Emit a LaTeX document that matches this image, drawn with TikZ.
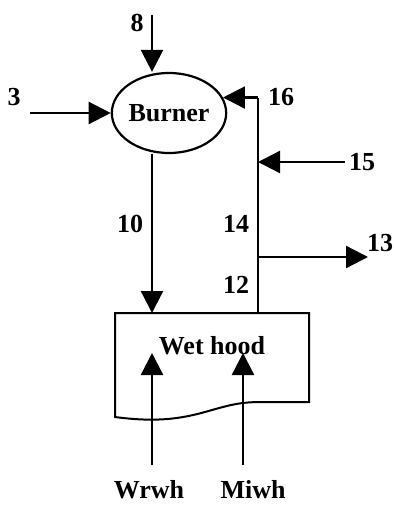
\documentclass[tikz,border=0pt]{standalone}
\usepackage{fontspec}
\setmainfont{Liberation Serif}
\usetikzlibrary{arrows.meta,shapes.geometric}
\begin{document}
\begin{tikzpicture}[x=1pt,y=-1pt,
  flow/.style={line width=2.3pt,-{Triangle[length=22pt,width=22pt]}},
  pipe/.style={line width=2.3pt},
  lbl/.style={font=\fontsize{26}{30}\selectfont\bfseries,inner sep=0pt},
  unit/.style={draw,ellipse,line width=2.2pt,minimum width=106pt,minimum height=80pt,inner sep=0pt,
    font=\fontsize{26}{30}\selectfont\bfseries}]
\useasboundingbox (0,0) rectangle (393,505);

% burner
\node[unit] (burner) at (169,113) {Burner};

% wet hood outline with wavy bottom edge
\draw[line width=2pt] (115,313) -- (309,313) -- (309,402) -- (262,402)
  .. controls (240,402) and (230,405) .. (212,410)
  .. controls (185,418) and (160,423) .. (115,417) -- cycle;
\node[lbl] (hood) at (212,346) {Wet hood};

% stream endpoints
\coordinate (s8) at (152,15);
\coordinate (s3) at (burner.west -| 30,0);
\coordinate (j16) at (burner.16 -| 258,0);
\coordinate (h10) at (152,313);
\coordinate (h12) at (258,313);
\coordinate (j15) at (258,162);
\coordinate (s15) at (345,162);
\coordinate (j13) at (258,257);
\coordinate (e13) at (368,257);
\coordinate (sw) at (152,465);
\coordinate (ew) at (152,353);
\coordinate (sm) at (243,465);
\coordinate (em) at (243,353);

% streams
\draw[flow] (s8) -- (burner.north -| s8);
\draw[flow] (s3) -- (burner.west);
\draw[flow] (burner.south -| s8) -- (h10);
\draw[pipe] (h12) -- (j16);
\draw[flow] (j16) -- (burner.16);
\draw[flow] (s15) -- (j15);
\draw[flow] (j13) -- (e13);
\draw[flow] (sw) -- (ew);
\draw[flow] (sm) -- (em);

% stream labels
\node[lbl] (l8) at (137,23) {8};
\node[lbl] (l3) at (14,97) {3};
\node[lbl] (l16) at (281,97) {16};
\node[lbl] (l15) at (362,162) {15};
\node[lbl] (l10) at (130,224) {10};
\node[lbl] (l14) at (236,224) {14};
\node[lbl] (l12) at (236,285) {12};
\node[lbl] (l13) at (380,243) {13};
\node[lbl] (lw) at (149,490) {Wrwh};
\node[lbl] (lm) at (253,490) {Miwh};
\end{tikzpicture}
\end{document}
